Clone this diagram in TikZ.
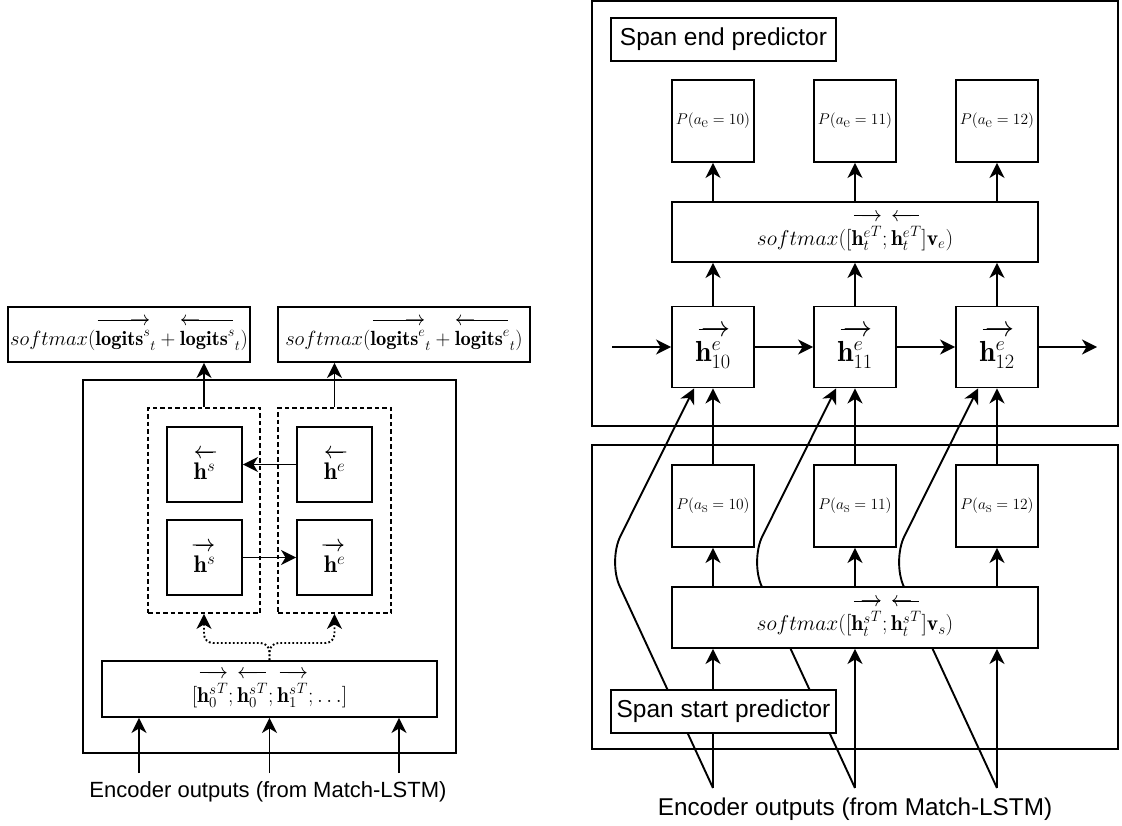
\documentclass[tikz,border=0pt]{standalone}
\usepackage{fix-cm}
\usepackage{fontspec}
\newfontfamily\labelfont{Liberation Sans}
\usetikzlibrary{arrows.meta}
\pgfdeclarelayer{frame}
\pgfdeclarelayer{wire}
\pgfsetlayers{frame,wire,main}

\makeatletter
% thin shaft drawn as a rule on the math axis, with the arrow glyph at one end
\newcommand\shaft{\leaders\vrule height\dimexpr\fontdimen22\textfont2+.42pt\relax
  depth-\dimexpr\fontdimen22\textfont2-.42pt\relax\hfill}
\newcommand\fillR{$\m@th\mkern2mu\shaft\mkern-16mu\rightarrow$}
\newcommand\fillL{$\m@th\leftarrow\mkern-16mu\shaft\mkern2mu$}
% vector over a whole expression, with a visible gap above it
\newcommand\stackvec[2]{\mathord{\setbox0=\hbox{$\m@th#2$}%
  \vbox{\offinterlineskip\hbox to\wd0{#1}\kern5pt\box0}}}
\newcommand\fwd[1]{\stackvec{\fillR}{#1}}
\newcommand\bwd[1]{\stackvec{\fillL}{#1}}
\makeatother

\begin{document}
\begin{tikzpicture}[x=1pt,y=-1pt,
  box/.style={draw, line width=1.9pt, fill=white, inner sep=0pt, align=center},
  frame/.style={draw, line width=1.9pt, inner sep=0pt},
  group/.style={draw, line width=1.8pt, dash pattern=on 4.5pt off 3pt, inner sep=0pt},
  wire/.style={line width=1.9pt},
  arr/.style={wire, -{Stealth[length=15pt,width=15pt,inset=4.5pt]}},
  brace/.style={arr, dash pattern=on 1.8pt off 2.2pt, rounded corners=9pt},
  mathtext/.style={font=\fontsize{21.5}{25}\selectfont},
  logits/.style={font=\fontsize{20.5}{24}\selectfont},
  hsmall/.style={font=\fontsize{24}{28}\selectfont},
  hbig/.style={font=\fontsize{29}{34}\selectfont},
  prob/.style={font=\fontsize{15.5}{18}\selectfont},
  label/.style={box, font=\labelfont\fontsize{24.5}{28}\selectfont},
  caption/.style={inner sep=0pt, font=\labelfont\fontsize{22}{26}\selectfont}
]
\useasboundingbox (0,0) rectangle (1122,826);

% ---------------- left: pointer network with bidirectional states ----------------
\begin{pgfonlayer}{frame}
  \node[frame, minimum width=373pt, minimum height=373pt] (outerL) at (269.5,566.5) {};
  \node[group, minimum width=112pt, minimum height=205pt] (dS) at (204,510.5) {};
  \node[group, minimum width=113pt, minimum height=205pt] (dE) at (334.5,510.5) {};
\end{pgfonlayer}

\node[box, logits, minimum width=242pt, minimum height=55pt] (smS) at (129,334.5)
  {$softmax(\fwd{\mathbf{logits}^s}_t+\bwd{\mathbf{logits}^s}_t)$};
\node[box, logits, minimum width=252pt, minimum height=55pt] (smE) at (404,334.5)
  {$softmax(\fwd{\mathbf{logits}^e}_t+\bwd{\mathbf{logits}^e}_t)$};

\node[box, hsmall, minimum width=75pt, minimum height=75pt] (hsb) at (204.5,464.5) {$\bwd{\mathbf{h}^s}$};
\node[box, hsmall, minimum width=75pt, minimum height=75pt] (heb) at (334.5,464.5) {$\bwd{\mathbf{h}^e}$};
\node[box, hsmall, minimum width=75pt, minimum height=75pt] (hsf) at (204.5,557.5) {$\fwd{\mathbf{h}^s}$};
\node[box, hsmall, minimum width=75pt, minimum height=75pt] (hef) at (334.5,557.5) {$\fwd{\mathbf{h}^e}$};

\node[box, mathtext, minimum width=335pt, minimum height=56pt] (encL) at (269.5,689)
  {$[\fwd{{\mathbf{h}^s_0}^T};\bwd{{\mathbf{h}^s_0}^T};\fwd{{\mathbf{h}^s_1}^T};\ldots]$};

\node[caption] (capL) at (268,792) {Encoder outputs (from Match-LSTM)};
\coordinate (inL1) at (139,773);
\coordinate (inL2) at (269.5,773);
\coordinate (inL3) at (399,773);
\coordinate (braceS) at (204,643);
\coordinate (braceE) at (334.5,643);

\begin{pgfonlayer}{wire}
  \draw[arr] (dS.north) -- (dS.north |- smS.south);
  \draw[arr] (dE.north) -- (dE.north |- smE.south);
  \draw[arr] (heb.west) -- (hsb.east);
  \draw[arr] (hsf.east) -- (hef.west);
  \draw[brace] (encL.north) |- (braceS) -- (dS.south);
  \draw[brace] (encL.north) |- (braceE) -- (dE.south);
  \draw[arr] (inL1) -- (inL1 |- encL.south);
  \draw[arr] (inL2) -- (inL2 |- encL.south);
  \draw[arr] (inL3) -- (inL3 |- encL.south);
\end{pgfonlayer}

% ---------------- right: span start / span end predictors ----------------
\begin{pgfonlayer}{frame}
  \node[frame, minimum width=526pt, minimum height=425pt] (endFrame) at (855,213.5) {};
  \node[frame, minimum width=526pt, minimum height=304pt] (startFrame) at (855,597) {};
\end{pgfonlayer}

\node[label, minimum width=225pt, minimum height=43pt] (endLabel) at (723.5,39.5) {Span end predictor};
\node[label, minimum width=225pt, minimum height=43pt] (startLabel) at (723.5,711.5) {Span start predictor};

\node[box, prob, minimum width=82pt, minimum height=82pt] (pe1) at (713,121) {$P(a_{\textstyle\mathrm{e}}=10)$};
\node[box, prob, minimum width=82pt, minimum height=82pt] (pe2) at (855,121) {$P(a_{\textstyle\mathrm{e}}=11)$};
\node[box, prob, minimum width=82pt, minimum height=82pt] (pe3) at (997,121) {$P(a_{\textstyle\mathrm{e}}=12)$};

\node[box, mathtext, minimum width=366pt, minimum height=60pt] (smEnd) at (855,232)
  {$softmax([\fwd{{\mathbf{h}_t^e}^T};\bwd{{\mathbf{h}_t^e}^T}]\mathbf{v}_e)$};

\node[box, hbig, minimum width=82pt, minimum height=81pt] (h1) at (713,347) {$\fwd{\mathbf{h}^e_{10}}$};
\node[box, hbig, minimum width=82pt, minimum height=81pt] (h2) at (855,347) {$\fwd{\mathbf{h}^e_{11}}$};
\node[box, hbig, minimum width=82pt, minimum height=81pt] (h3) at (997,347) {$\fwd{\mathbf{h}^e_{12}}$};

\node[box, prob, minimum width=82pt, minimum height=82pt] (ps1) at (713,506) {$P(a_{\textstyle\mathrm{s}}=10)$};
\node[box, prob, minimum width=82pt, minimum height=82pt] (ps2) at (855,506) {$P(a_{\textstyle\mathrm{s}}=11)$};
\node[box, prob, minimum width=82pt, minimum height=82pt] (ps3) at (997,506) {$P(a_{\textstyle\mathrm{s}}=12)$};

\node[box, mathtext, minimum width=366pt, minimum height=61pt] (smStart) at (855,617.5)
  {$softmax([\fwd{{\mathbf{h}_t^s}^T};\bwd{{\mathbf{h}_t^s}^T}]\mathbf{v}_s)$};

\node[caption, font=\labelfont\fontsize{24.3}{28}\selectfont] (capR) at (855,809) {Encoder outputs (from Match-LSTM)};

\coordinate (inR1) at (713,788);
\coordinate (inR2) at (855,788);
\coordinate (inR3) at (997,788);
\coordinate (bend1) at (608,561);
\coordinate (bend2) at (750,561);
\coordinate (bend3) at (892,561);
\coordinate (hIn) at (612,347);
\coordinate (hOut) at (1097,347);

\begin{pgfonlayer}{wire}
  % encoder outputs feed the start softmax and, skipping it, the end LSTM
  \draw[arr] (inR1) -- (inR1 |- smStart.south);
  \draw[arr] (inR2) -- (inR2 |- smStart.south);
  \draw[arr] (inR3) -- (inR3 |- smStart.south);
  \draw[arr, rounded corners=28pt] (inR1) -- (bend1) -- ([xshift=-19pt]h1.south);
  \draw[arr, rounded corners=28pt] (inR2) -- (bend2) -- ([xshift=-19pt]h2.south);
  \draw[arr, rounded corners=28pt] (inR3) -- (bend3) -- ([xshift=-19pt]h3.south);
  % start probabilities
  \draw[arr] (ps1 |- smStart.north) -- (ps1.south);
  \draw[arr] (ps2 |- smStart.north) -- (ps2.south);
  \draw[arr] (ps3 |- smStart.north) -- (ps3.south);
  \draw[arr] (ps1.north) -- (h1.south);
  \draw[arr] (ps2.north) -- (h2.south);
  \draw[arr] (ps3.north) -- (h3.south);
  % end LSTM chain
  \draw[arr] (hIn) -- (h1.west);
  \draw[arr] (h1.east) -- (h2.west);
  \draw[arr] (h2.east) -- (h3.west);
  \draw[arr] (h3.east) -- (hOut);
  \draw[arr] (h1.north) -- (h1 |- smEnd.south);
  \draw[arr] (h2.north) -- (h2 |- smEnd.south);
  \draw[arr] (h3.north) -- (h3 |- smEnd.south);
  \draw[arr] (pe1 |- smEnd.north) -- (pe1.south);
  \draw[arr] (pe2 |- smEnd.north) -- (pe2.south);
  \draw[arr] (pe3 |- smEnd.north) -- (pe3.south);
\end{pgfonlayer}
\end{tikzpicture}
\end{document}
